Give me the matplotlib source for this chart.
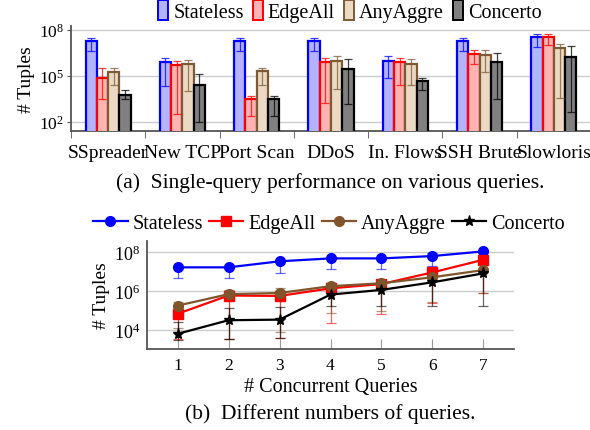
import numpy as np
import matplotlib
matplotlib.use('Agg')
import matplotlib.pyplot as plt
from matplotlib.patches import Rectangle
from matplotlib.lines import Line2D

plt.rcParams['font.family'] = ['Liberation Serif', 'DejaVu Serif']
plt.rcParams['mathtext.fontset'] = 'custom'
plt.rcParams['mathtext.rm'] = 'Liberation Serif'
plt.rcParams['mathtext.it'] = 'Liberation Serif:italic'

# ---- data (log10 of tuple counts) ----
queries = ['SSpreader', 'New TCP', 'Port Scan', 'DDoS', 'In. Flows', 'SSH Brute', 'Slowloris']
systems = ['Stateless', 'EdgeAll', 'AnyAggre', 'Concerto']

bar_val = {
    'Stateless': [7.26, 5.89, 7.26, 7.26, 5.98, 7.26, 7.57],
    'EdgeAll':   [4.85, 5.72, 3.50, 5.89, 5.89, 6.41, 7.57],
    'AnyAggre':  [5.28, 5.76, 5.30, 5.98, 5.80, 6.37, 6.80],
    'Concerto':  [3.76, 4.43, 3.50, 5.43, 4.67, 5.89, 6.26],
}
bar_low = {
    'Stateless': [6.61, 4.33, 6.61, 6.61, 4.85, 6.61, 6.89],
    'EdgeAll':   [3.50, 2.50, 2.41, 3.24, 4.41, 5.80, 7.02],
    'AnyAggre':  [4.41, 4.02, 4.41, 4.15, 4.41, 5.28, 3.59],
    'Concerto':  [3.50, 1.98, 2.41, 3.20, 4.10, 3.50, 2.63],
}
bar_high = {
    'Stateless': [7.46, 6.15, 7.46, 7.46, 6.28, 7.46, 7.76],
    'EdgeAll':   [5.50, 5.98, 3.67, 6.15, 6.15, 6.72, 7.76],
    'AnyAggre':  [5.50, 6.06, 5.50, 6.33, 6.09, 6.67, 7.10],
    'Concerto':  [4.07, 5.11, 3.67, 6.09, 4.89, 6.50, 6.94],
}

n_queries = [1, 2, 3, 4, 5, 6, 7]
line_val = {
    'Stateless': [7.23, 7.23, 7.54, 7.69, 7.69, 7.81, 8.05],
    'EdgeAll':   [4.84, 5.78, 5.76, 6.15, 6.37, 6.97, 7.62],
    'AnyAggre':  [5.26, 5.85, 5.91, 6.26, 6.41, 6.72, 7.09],
    'Concerto':  [3.81, 4.51, 4.54, 5.83, 6.07, 6.46, 6.92],
}
line_low = {
    'Stateless': [6.67, 6.67, 6.94, 7.14, 7.14, 7.30, 7.95],
    'EdgeAll':   [3.55, 3.55, 3.60, 4.36, 4.84, 5.40, 5.90],
    'AnyAggre':  [4.10, 3.55, 3.90, 4.89, 4.97, 5.44, 5.90],
    'Concerto':  [3.50, 3.55, 3.60, 5.23, 5.26, 5.26, 5.26],
}
line_high = {
    'Stateless': [7.30, 7.30, 7.60, 7.75, 7.75, 7.95, 8.08],
    'EdgeAll':   [5.10, 6.00, 6.00, 6.40, 6.50, 7.10, 7.75],
    'AnyAggre':  [5.45, 6.05, 6.15, 6.40, 6.55, 6.85, 7.20],
    'Concerto':  [4.41, 5.14, 5.21, 6.00, 6.20, 6.60, 7.00],
}

edge_col = {'Stateless': '#0000ff', 'EdgeAll': '#ff0000', 'AnyAggre': '#7d5a36', 'Concerto': '#000000'}
face_col = {'Stateless': '#b3b3ff', 'EdgeAll': '#ffb3b3', 'AnyAggre': '#ecd9c4', 'Concerto': '#808080'}
line_col = {'Stateless': '#0000ff', 'EdgeAll': '#ff0000', 'AnyAggre': '#80552b', 'Concerto': '#000000'}
markers = {'Stateless': 'o', 'EdgeAll': 's', 'AnyAggre': 'o', 'Concerto': '*'}
msize = {'Stateless': 7, 'EdgeAll': 6.5, 'AnyAggre': 7, 'Concerto': 8}

FS_NUM = 12.5   # digits on the axes
FS_YLAB = 14    # "# Tuples"
FS_TXT = 14     # word tick labels
FS_LEG = 14.5   # legends
FS_XLAB = 14.5  # x label
FS_CAP = 15.5   # captions
spine_col = '#555555'
grid_col = '#cccccc'

fig = plt.figure(figsize=(5.9, 4.31), dpi=100)

# ---- (a) bar chart ----
ax1 = fig.add_axes([71 / 590, 1 - 132 / 431, 520 / 590, 105 / 431])
x = np.arange(len(queries))
bw = 0.152
for i, s in enumerate(systems):
    v = 10 ** np.array(bar_val[s])
    lo = 10 ** np.array(bar_low[s])
    hi = 10 ** np.array(bar_high[s])
    xs = x + (i - 1.5) * bw
    ax1.bar(xs, v - 1, bottom=1, width=bw, color=face_col[s], edgecolor=edge_col[s],
            linewidth=1.6, zorder=3)
    ax1.errorbar(xs, v, yerr=[v - lo, hi - v], fmt='none', ecolor=edge_col[s],
                 elinewidth=0.9, capsize=3.2, capthick=0.9, alpha=0.75, zorder=4)

ax1.set_yscale('log')
ax1.set_ylim(10 ** 1.41, 10 ** 8.26)
ax1.set_xlim(-0.5, 6.5)
ax1.set_yticks([1e2, 1e5, 1e8])
ax1.yaxis.set_minor_locator(matplotlib.ticker.NullLocator())
ax1.set_xticks(x)
ax1.set_xticklabels(queries, fontsize=FS_TXT)
ax1.set_xticks(np.arange(-0.5, 7, 1), minor=True)
ax1.tick_params(axis='x', which='major', length=0, pad=9)
ax1.tick_params(axis='x', which='minor', length=5, direction='out', color=spine_col)
ax1.tick_params(axis='y', labelsize=FS_NUM, length=3, color=spine_col, pad=2)
ax1.grid(axis='y', color=grid_col, linewidth=1.0, zorder=0)
ax1.set_axisbelow(True)
for sp in ['top', 'right']:
    ax1.spines[sp].set_visible(False)
for sp in ['left', 'bottom']:
    ax1.spines[sp].set_color(spine_col)
    ax1.spines[sp].set_linewidth(1.3)
ax1.set_ylabel('# Tuples', fontsize=FS_YLAB, labelpad=3)

bar_handles = [Rectangle((0, 0), 1, 1, facecolor=face_col[s], edgecolor=edge_col[s], linewidth=1.4)
               for s in systems]
fig.legend(bar_handles, systems, loc='center', bbox_to_anchor=(350 / 590, 1 - 12 / 431),
           ncol=4, frameon=False, fontsize=FS_LEG, handlelength=0.5, handleheight=1.15,
           handletextpad=0.25, columnspacing=0.45, borderpad=0)

fig.text(330 / 590, 1 - 183 / 431, '(a)  Single-query performance on various queries.',
         ha='center', va='center', fontsize=FS_CAP)

# ---- (b) line chart ----
ax2 = fig.add_axes([147 / 590, 1 - 350 / 431, 367 / 590, 108.3 / 431])
for s in systems:
    v = 10 ** np.array(line_val[s])
    lo = 10 ** np.array(line_low[s])
    hi = 10 ** np.array(line_high[s])
    ax2.errorbar(n_queries, v, yerr=[v - lo, hi - v], color=line_col[s], marker=markers[s],
                 markersize=msize[s], linewidth=1.6, elinewidth=0.9, capsize=3.5, capthick=0.9,
                 ecolor=matplotlib.colors.to_rgba(line_col[s], 0.6), zorder=3)

ax2.set_yscale('log')
ax2.set_ylim(10 ** 3.03, 10 ** 8.6)
ax2.set_xlim(0.4, 7.6)
ax2.set_yticks([1e4, 1e6, 1e8])
ax2.yaxis.set_minor_locator(matplotlib.ticker.NullLocator())
ax2.set_xticks(n_queries)
ax2.tick_params(axis='x', labelsize=FS_NUM, direction='in', length=7, color='#999999', pad=6)
ax2.tick_params(axis='y', labelsize=13, length=0, pad=5)
ax2.grid(axis='y', color=grid_col, linewidth=1.0, zorder=0)
ax2.set_axisbelow(True)
for sp in ['top', 'right']:
    ax2.spines[sp].set_visible(False)
for sp in ['left', 'bottom']:
    ax2.spines[sp].set_color(spine_col)
    ax2.spines[sp].set_linewidth(1.3)
ax2.set_ylabel('# Tuples', fontsize=FS_YLAB, labelpad=3)
ax2.set_xlabel('# Concurrent Queries', fontsize=FS_XLAB, labelpad=3)

line_handles = [Line2D([], [], color=line_col[s], marker=markers[s], linewidth=1.6,
                       markersize=msize[s]) for s in systems]
fig.legend(line_handles, systems, loc='center', bbox_to_anchor=(329 / 590, 1 - 224 / 431),
           ncol=4, frameon=False, fontsize=FS_LEG, handlelength=1.7,
           handletextpad=0.25, columnspacing=0.3, borderpad=0)

fig.text(330 / 590, 1 - 414 / 431, '(b)  Different numbers of queries.',
         ha='center', va='center', fontsize=FS_CAP)

fig.savefig('out.png', dpi=100)
